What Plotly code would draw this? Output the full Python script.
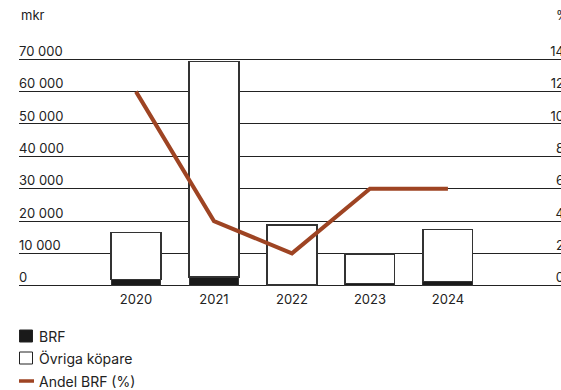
import plotly.graph_objects as go

# Data (mkr and share in %)
years = ["2020", "2021", "2022", "2023", "2024"]
brf = [2000, 2700, 500, 700, 1200]
ovriga = [14500, 66500, 18300, 9100, 16300]
andel_brf = [12, 4, 2, 6, 6]

left_ticks = [0, 10000, 20000, 30000, 40000, 50000, 60000, 70000]
left_labels = ["0", "10 000", "20 000", "30 000", "40 000", "50 000", "60 000", "70 000"]
right_ticks = [0, 2, 4, 6, 8, 10, 12, 14]
right_labels = ["0", "2", "4", "6", "8", "10", "12", "14"]

W, H = 561, 390
ML, MR, MT, MB = 19, 0, 56, 101
PW, PH = W - ML - MR, H - MT - MB

TEXT = "#222222"
GRID = "#222222"
RUST = "#9e4423"
FONT = "Inter"

# small padding so the 0 and 70 000 gridlines sit inside the plot area
Y_RANGE = [-1000, 71000]
Y2_RANGE = [v * 14 / 70000 for v in Y_RANGE]


def px_x(x):
    return (x - ML) / PW


def px_y(y):
    return (H - MB - y) / PH


fig = go.Figure()
fig.add_trace(go.Bar(
    x=years, y=brf, name="BRF", width=0.64,
    marker=dict(color="#1a1a1a", line=dict(color="#333333", width=1)),
))
fig.add_trace(go.Bar(
    x=years, y=ovriga, name="Övriga köpare", width=0.64,
    marker=dict(color="#ffffff", line=dict(color="#333333", width=1.2)),
))
fig.add_trace(go.Scatter(
    x=years, y=andel_brf, name="Andel BRF (%)", yaxis="y2", mode="lines",
    line=dict(color=RUST, width=4),
))

fig.update_layout(
    width=W, height=H,
    margin=dict(l=ML, r=MR, t=MT, b=MB, pad=0, autoexpand=False),
    paper_bgcolor="white", plot_bgcolor="white",
    barmode="stack", showlegend=False,
    font=dict(family=FONT, size=13, color=TEXT),
    xaxis=dict(
        type="category", range=[-1.5, 5.45], showgrid=False, showline=False,
        ticks="", tickfont=dict(size=13, color=TEXT), automargin=False,
        ticklabelstandoff=1,
    ),
    yaxis=dict(
        range=Y_RANGE, tickvals=left_ticks, ticktext=left_labels,
        ticklabelposition="inside", ticklabelshift=-8, ticklabelstandoff=-3,
        ticklabeloverflow="allow", automargin=False,
        showgrid=True, gridcolor=GRID, gridwidth=1.2, zeroline=False,
        showline=False, ticks="", tickfont=dict(size=13, color=TEXT),
        layer="below traces",
    ),
    yaxis2=dict(
        overlaying="y", side="right", range=Y2_RANGE,
        tickvals=right_ticks, ticktext=right_labels,
        ticklabelposition="inside", ticklabelshift=-8, ticklabelstandoff=-6,
        ticklabeloverflow="allow", automargin=False,
        showgrid=False, zeroline=False, showline=False, ticks="",
        tickfont=dict(size=13, color=TEXT),
    ),
)

# Unit captions above the axes
fig.add_annotation(text="mkr", xref="paper", yref="paper", x=px_x(19), y=px_y(15),
                   xanchor="left", yanchor="middle", showarrow=False,
                   font=dict(size=13, color=TEXT))
fig.add_annotation(text="%", xref="paper", yref="paper", x=px_x(554), y=px_y(15),
                   xanchor="left", yanchor="middle", showarrow=False,
                   font=dict(size=13, color=TEXT))

# Legend drawn below the chart
legend_items = [
    ("BRF", "box_dark", 336),
    ("Övriga köpare", "box_light", 358),
    ("Andel BRF (%)", "line", 381),
]
for label, kind, yc in legend_items:
    if kind == "line":
        fig.add_shape(type="line", xref="paper", yref="paper",
                      x0=px_x(19), x1=px_x(34), y0=px_y(yc), y1=px_y(yc),
                      line=dict(color=RUST, width=3.5))
    else:
        fill = "#1a1a1a" if kind == "box_dark" else "#ffffff"
        fig.add_shape(type="rect", xref="paper", yref="paper",
                      x0=px_x(19.5), x1=px_x(32.5), y0=px_y(yc - 6), y1=px_y(yc + 6),
                      fillcolor=fill, line=dict(color="#222222", width=1))
    fig.add_annotation(text=label, xref="paper", yref="paper", x=px_x(37), y=px_y(yc),
                       xanchor="left", yanchor="middle", showarrow=False,
                       font=dict(size=14, color=TEXT))

fig.write_html("out.html")
